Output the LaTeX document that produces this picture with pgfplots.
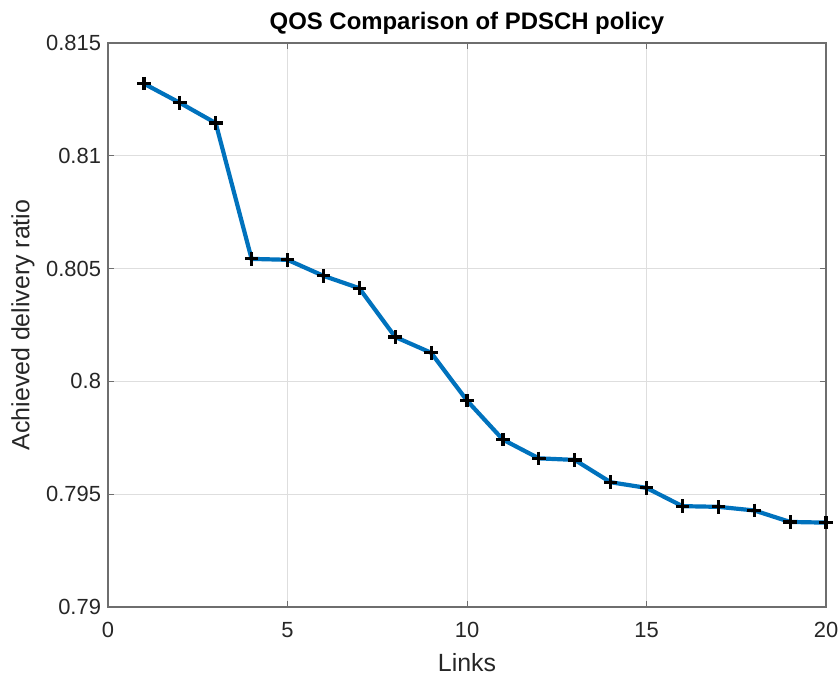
\documentclass[border=0pt]{standalone}
\usepackage{pgfplots}
\pgfplotsset{compat=1.18}
\usepackage{fontspec}
\setmainfont{Liberation Sans}
\definecolor{mblue}{RGB}{0,114,189}
\definecolor{mtext}{RGB}{38,38,38}
\definecolor{maxis}{RGB}{110,110,110}
\definecolor{mgrid}{RGB}{222,222,222}
\begin{document}
\begin{tikzpicture}
\useasboundingbox (0,0) rectangle (420bp,337.5bp);
\begin{axis}[
  at={(54bp,34bp)}, anchor=south west,
  scale only axis, width=359bp, height=282bp,
  xmin=0, xmax=20, ymin=0.79, ymax=0.815,
  xtick={0,5,10,15,20},
  xticklabels={0,5,10,15,20},
  ytick={0.79,0.795,0.8,0.805,0.81,0.815},
  yticklabels={0.79,0.795,0.8,0.805,0.81,0.815},
  tick align=inside, major tick length=3bp,
  tick style={maxis, line width=0.5bp},
  axis line style={maxis, line width=0.6bp},
  grid=major, major grid style={mgrid, line width=0.5bp},
  ticklabel style={font=\fontsize{11}{13}\selectfont, text=mtext},
  xticklabel style={yshift=-4bp},
  xlabel={Links}, ylabel={Achieved delivery ratio},
  label style={font=\fontsize{12.5}{14}\selectfont, text=mtext},
  xlabel style={yshift=-1bp},
  ylabel style={yshift=-1bp},
  title={\bfseries QOS Comparison of PDSCH policy},
  title style={font=\fontsize{12}{14}\selectfont, yshift=-5bp},
]
\addplot[mblue, line width=2.1bp, mark=+, mark size=3.4bp,
  mark options={black, line width=1.6bp}] coordinates {
(1,0.81320) (2,0.81235) (3,0.81145) (4,0.80543) (5,0.80539)
(6,0.80468) (7,0.80413) (8,0.80197) (9,0.80127) (10,0.79915)
(11,0.79742) (12,0.79659) (13,0.79652) (14,0.79553) (15,0.79528)
(16,0.79447) (17,0.79444) (18,0.79428) (19,0.79377) (20,0.79374)
};
\end{axis}
\end{tikzpicture}
\end{document}
